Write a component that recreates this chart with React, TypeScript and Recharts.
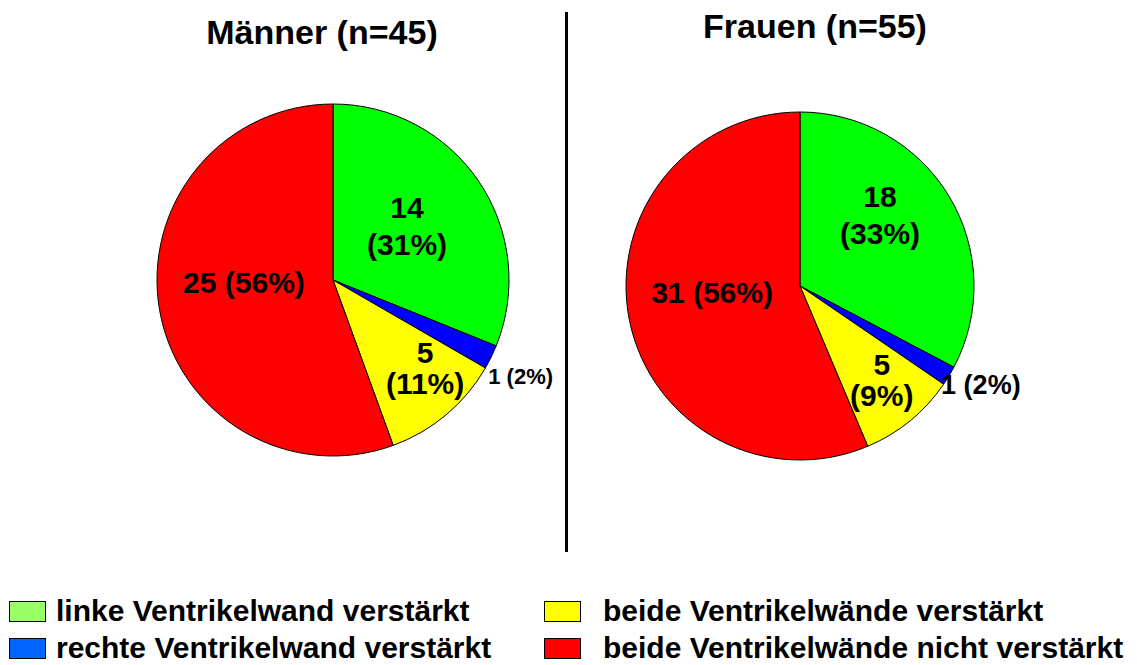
import { Cell, Pie, PieChart } from "recharts";

const categories = [
  "linke Ventrikelwand verstärkt",
  "rechte Ventrikelwand verstärkt",
  "beide Ventrikelwände verstärkt",
  "beide Ventrikelwände nicht verstärkt",
];
const menValues = [14, 1, 5, 25];
const womenValues = [18, 1, 5, 31];
const titles = ["Männer (n=45)", "Frauen (n=55)"];

const sliceColors = ["#00ff00", "#0000ff", "#ffff00", "#ff0000"];
const legendColors = ["#99ff66", "#0066ff", "#ffff00", "#ff0000"];

// label placement per slice: share of the radius, and a small turn off the mid angle (degrees)
const menLabelRadius = [0.524, 1.2, 0.72, 0.506];
const menLabelTurn = [2.6, -1.3, 6.6, -8.7];
const womenLabelRadius = [0.617, 1.186, 0.714, 0.507];
const womenLabelTurn = [10.7, 2.3, 1.9, -7];
const twoLineGap = [37, 0, 31, 0];

const FONT = "'Liberation Sans', Arial, sans-serif";
const RAD = Math.PI / 180;

function toRows(values: number[]) {
  const total = values.reduce((a, b) => a + b, 0);
  return values.map((v, i) => ({
    name: categories[i],
    value: v,
    pct: Math.round((v / total) * 100),
  }));
}

function makeLabel(radius: number[], turn: number[], smallSize: number) {
  return (props: any) => {
    const { cx, cy, midAngle, outerRadius, index, payload } = props;
    const r = outerRadius * radius[index];
    const a = (midAngle + turn[index]) * RAD;
    const x = cx + r * Math.cos(-a);
    const y = cy + r * Math.sin(-a);
    const v = payload.value;
    const p = payload.pct;
    const gap = twoLineGap[index];
    if (gap) {
      return (
        <text x={x} y={y} textAnchor="middle" fontFamily={FONT} fontWeight="bold" fontSize={30} fill="#000">
          <tspan x={x} dy={-gap / 2 + 11}>{v}</tspan>
          <tspan x={x} dy={gap}>({p}%)</tspan>
        </text>
      );
    }
    const size = index === 1 ? smallSize : 30;
    return (
      <text x={x} y={y} textAnchor="middle" dominantBaseline="central" fontFamily={FONT} fontWeight="bold" fontSize={size} fill="#000">
        {v} ({p}%)
      </text>
    );
  };
}

export default function App() {
  const men = toRows(menValues);
  const women = toRows(womenValues);

  return (
    <div style={{ position: "absolute", left: 0, top: 0, width: 1137, height: 665, background: "#fff", fontFamily: FONT }}>
      <PieChart width={1137} height={665} margin={{ top: 0, right: 0, bottom: 0, left: 0 }}>
        <Pie
          data={men}
          dataKey="value"
          cx={333}
          cy={280}
          outerRadius={176}
          startAngle={90}
          endAngle={-270}
          stroke="#000"
          strokeWidth={1}
          label={makeLabel(menLabelRadius, menLabelTurn, 22)}
          labelLine={false}
          isAnimationActive={false}
        >
          {men.map((d, i) => (
            <Cell key={d.name} fill={sliceColors[i]} />
          ))}
        </Pie>
        <Pie
          data={women}
          dataKey="value"
          cx={800}
          cy={286}
          outerRadius={174}
          startAngle={90}
          endAngle={-270}
          stroke="#000"
          strokeWidth={1}
          label={makeLabel(womenLabelRadius, womenLabelTurn, 27)}
          labelLine={false}
          isAnimationActive={false}
        >
          {women.map((d, i) => (
            <Cell key={d.name} fill={sliceColors[i]} />
          ))}
        </Pie>
      </PieChart>

      <div style={{ position: "absolute", left: 122, top: 12, width: 400, textAlign: "center", fontSize: 34, fontWeight: "bold", lineHeight: "40px" }}>
        {titles[0]}
      </div>
      <div style={{ position: "absolute", left: 615, top: 6, width: 400, textAlign: "center", fontSize: 34, fontWeight: "bold", lineHeight: "40px" }}>
        {titles[1]}
      </div>
      <div style={{ position: "absolute", left: 565, top: 12, width: 3, height: 540, background: "#000" }} />

      {categories.map((c, i) => {
        const col = i < 2 ? 0 : 1;
        const row = i % 2;
        const left = col === 0 ? 9 : 544;
        const top = 596 + row * 37;
        return (
          <div key={c} style={{ position: "absolute", left, top, display: "flex", alignItems: "center", height: 30 }}>
            <div style={{ width: 35, height: 19, background: legendColors[i], border: "1px solid #000", marginRight: col === 0 ? 10 : 22 }} />
            <span style={{ fontSize: 30, fontWeight: "bold", whiteSpace: "nowrap", lineHeight: "30px" }}>{c}</span>
          </div>
        );
      })}
    </div>
  );
}
